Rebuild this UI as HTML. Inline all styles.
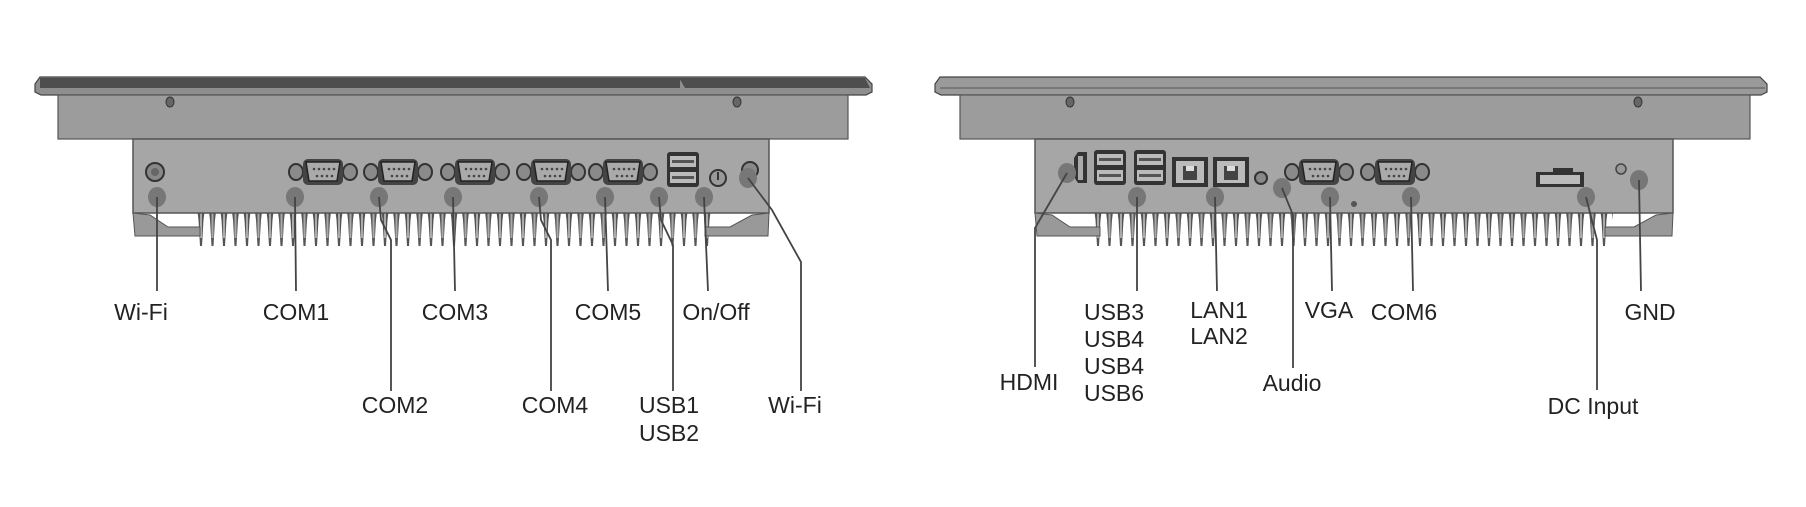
<!DOCTYPE html>
<html><head><meta charset="utf-8"><style>
html,body{margin:0;padding:0;background:#fff;}
svg{display:block;}
text{font-family:"Liberation Sans",Arial,sans-serif;font-size:23px;fill:#222;text-anchor:middle;}
</style></head><body>
<svg width="1806" height="507" viewBox="0 0 1806 507" xmlns="http://www.w3.org/2000/svg">
<defs>
<pattern id="fins" x="0" y="212" width="11.5" height="40" patternUnits="userSpaceOnUse">
<polygon points="2,0 9,0 8,8 6.5,34 4.5,34 3,8" fill="#555"/>
<rect x="4.5" y="0" width="2" height="26" fill="#aaa"/>
</pattern>
<g id="db9">
<ellipse cx="-27" cy="0" rx="7" ry="8" fill="#8a8a8a" stroke="#333" stroke-width="2"/>
<ellipse cx="27" cy="0" rx="7" ry="8" fill="#8a8a8a" stroke="#333" stroke-width="2"/>
<rect x="-20" y="-13" width="40" height="26" rx="5" fill="#444"/>
<path d="M-17,-10 H17 L14,9 H-14 Z" fill="#aaa" stroke="#222" stroke-width="1.5"/>
<g fill="#444"><circle cx="-9" cy="-3" r="1.3"/><circle cx="-4" cy="-3" r="1.3"/><circle cx="1" cy="-3" r="1.3"/><circle cx="6" cy="-3" r="1.3"/><circle cx="11" cy="-3" r="1.3"/><circle cx="-6" cy="4" r="1.3"/><circle cx="-1" cy="4" r="1.3"/><circle cx="4" cy="4" r="1.3"/><circle cx="9" cy="4" r="1.3"/></g>
</g>
<g id="usb">
<rect x="0" y="0" width="32" height="35" rx="3" fill="#333"/>
<rect x="3" y="4" width="26" height="11" fill="#bbb"/><rect x="5" y="8" width="22" height="3" fill="#555"/>
<rect x="3" y="20" width="26" height="11" fill="#bbb"/><rect x="5" y="24" width="22" height="3" fill="#555"/>
</g>
<g id="lan">
<rect x="0" y="0" width="36" height="30" fill="#333"/>
<rect x="4" y="4" width="28" height="22" fill="#bbb"/>
<rect x="11" y="9" width="14" height="14" fill="#444"/>
<rect x="14" y="9" width="8" height="5" fill="#ddd"/>
</g>
</defs>

<!-- LEFT DEVICE -->
<path d="M35,84 L40,77 H865 L872,84 V92 L866,95 H41 L35,92 Z" fill="#8e8e8e" stroke="#444" stroke-width="1.2"/>
<path d="M40,78 H675 Q680,78 682,83 L685,88 H870 L865,78 Z" fill="#4e4e4e"/>
<rect x="40" y="78" width="640" height="10" fill="#4e4e4e"/>
<rect x="58" y="95" width="790" height="44" fill="#9c9c9c" stroke="#555" stroke-width="1.2"/>
<ellipse cx="170" cy="102" rx="4" ry="5" fill="#666" stroke="#333"/>
<ellipse cx="737" cy="102" rx="4" ry="5" fill="#666" stroke="#333"/>
<rect x="193" y="212" width="520" height="36" fill="url(#fins)"/>
<rect x="133" y="139" width="636" height="74" fill="#a6a6a6" stroke="#555" stroke-width="1.5"/>
<path d="M133,213 L150,215 L168,227 H200 L200,236 H135 Z" fill="#999" stroke="#555"/>
<path d="M769,213 L752,215 L730,227 H705 L705,236 H768 Z" fill="#999" stroke="#555"/>
<circle cx="155" cy="172" r="9" fill="#888" stroke="#333" stroke-width="2"/><circle cx="155" cy="172" r="4" fill="#666"/>
<use href="#db9" x="323" y="172"/><use href="#db9" x="398" y="172"/><use href="#db9" x="475" y="172"/><use href="#db9" x="551" y="172"/><use href="#db9" x="623" y="172"/>
<use href="#usb" x="667" y="152"/>
<circle cx="718" cy="178" r="8" fill="#999" stroke="#333" stroke-width="2"/><line x1="718" y1="172" x2="718" y2="180" stroke="#333" stroke-width="2"/>
<circle cx="750" cy="170" r="8" fill="#888" stroke="#333" stroke-width="2"/>
<g fill="#777"><ellipse cx="157" cy="197" rx="9" ry="10"/><ellipse cx="295" cy="197" rx="9" ry="10"/><ellipse cx="379" cy="197" rx="9" ry="10"/><ellipse cx="453" cy="197" rx="9" ry="10"/><ellipse cx="539" cy="197" rx="9" ry="10"/><ellipse cx="605" cy="197" rx="9" ry="10"/><ellipse cx="659" cy="197" rx="9" ry="10"/><ellipse cx="704" cy="197" rx="9" ry="10"/><ellipse cx="748" cy="178" rx="9" ry="10"/></g>
<g fill="none" stroke="#444" stroke-width="1.8">
<polyline points="157,197 157,291"/>
<polyline points="295,197 296,291"/>
<polyline points="379,197 381,220 391,240 391,391"/>
<polyline points="453,197 455,291"/>
<polyline points="539,197 541,220 551,240 551,391"/>
<polyline points="605,197 608,291"/>
<polyline points="659,197 661,220 673,245 673,391"/>
<polyline points="704,197 708,291"/>
<polyline points="748,178 772,210 801,262 801,391"/>
</g>
<text x="141" y="320">Wi-Fi</text>
<text x="296" y="320">COM1</text>
<text x="455" y="320">COM3</text>
<text x="608" y="320">COM5</text>
<text x="716" y="320">On/Off</text>
<text x="395" y="413">COM2</text>
<text x="555" y="413">COM4</text>
<text x="669" y="413">USB1</text>
<text x="669" y="441">USB2</text>
<text x="795" y="413">Wi-Fi</text>

<!-- RIGHT DEVICE -->
<path d="M935,84 L940,77 H1760 L1767,84 V92 L1761,95 H941 L935,92 Z" fill="#9a9a9a" stroke="#444" stroke-width="1.2"/>
<line x1="940" y1="88" x2="1765" y2="88" stroke="#555" stroke-width="1"/>
<rect x="960" y="95" width="790" height="44" fill="#9c9c9c" stroke="#555" stroke-width="1.2"/>
<ellipse cx="1070" cy="102" rx="4" ry="5" fill="#666" stroke="#333"/>
<ellipse cx="1638" cy="102" rx="4" ry="5" fill="#666" stroke="#333"/>
<rect x="1093" y="212" width="520" height="36" fill="url(#fins)"/>
<rect x="1035" y="139" width="638" height="74" fill="#a6a6a6" stroke="#555" stroke-width="1.5"/>
<path d="M1035,213 L1052,215 L1070,227 H1100 L1100,236 H1037 Z" fill="#999" stroke="#555"/>
<path d="M1673,213 L1656,215 L1634,227 H1605 L1605,236 H1672 Z" fill="#999" stroke="#555"/>
<path d="M1074,158 L1078,152 H1087 V183 H1078 L1074,177 Z" fill="#333"/><rect x="1078" y="156" width="5" height="24" fill="#aaa"/>
<use href="#usb" x="1094" y="150"/><use href="#usb" x="1134" y="150"/>
<use href="#lan" x="1172" y="157"/><use href="#lan" x="1213" y="157"/>
<circle cx="1261" cy="178" r="6" fill="#888" stroke="#333" stroke-width="2"/>
<use href="#db9" x="1319" y="172"/><use href="#db9" x="1395" y="172"/>
<circle cx="1354" cy="204" r="3" fill="#555"/>
<rect x="1536" y="172" width="48" height="15" fill="#333"/><rect x="1540" y="175" width="40" height="9" fill="#bbb"/><rect x="1553" y="168" width="20" height="5" fill="#333"/>
<circle cx="1621" cy="169" r="5" fill="#999" stroke="#444" stroke-width="1.5"/>
<g fill="#777"><ellipse cx="1067" cy="173" rx="9" ry="10"/><ellipse cx="1137" cy="197" rx="9" ry="10"/><ellipse cx="1215" cy="197" rx="9" ry="10"/><ellipse cx="1282" cy="188" rx="9" ry="10"/><ellipse cx="1330" cy="197" rx="9" ry="10"/><ellipse cx="1411" cy="197" rx="9" ry="10"/><ellipse cx="1586" cy="197" rx="9" ry="10"/><ellipse cx="1639" cy="180" rx="9" ry="10"/></g>
<g fill="none" stroke="#444" stroke-width="1.8">
<polyline points="1067,173 1035,228 1035,367"/>
<polyline points="1137,197 1137,291"/>
<polyline points="1215,197 1217,291"/>
<polyline points="1282,188 1293,215 1293,368"/>
<polyline points="1330,197 1332,291"/>
<polyline points="1411,197 1413,291"/>
<polyline points="1586,197 1597,240 1597,390"/>
<polyline points="1639,180 1641,291"/>
</g>
<text x="1029" y="390">HDMI</text>
<text x="1114" y="320">USB3</text>
<text x="1114" y="347">USB4</text>
<text x="1114" y="374">USB4</text>
<text x="1114" y="401">USB6</text>
<text x="1219" y="318">LAN1</text>
<text x="1219" y="344">LAN2</text>
<text x="1292" y="391">Audio</text>
<text x="1329" y="318">VGA</text>
<text x="1404" y="320">COM6</text>
<text x="1593" y="414">DC Input</text>
<text x="1650" y="320">GND</text>
</svg>
</body></html>
